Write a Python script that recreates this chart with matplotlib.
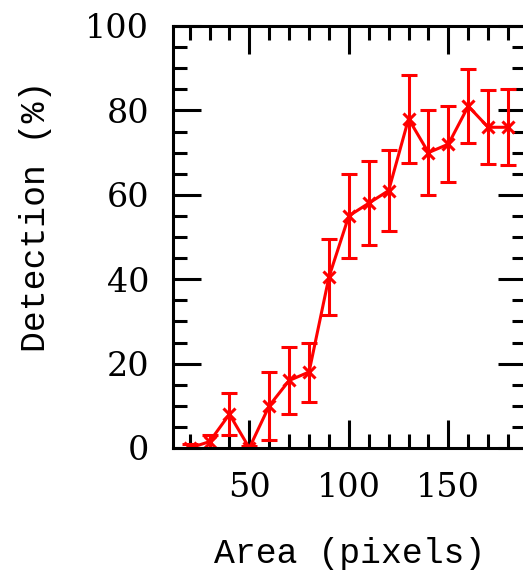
import matplotlib
matplotlib.use("Agg")
import matplotlib.pyplot as plt
from matplotlib.ticker import MultipleLocator

area = [20, 30, 40, 50, 60, 70, 80, 90, 100, 110, 120, 130, 140, 150, 160, 170, 180]
detection = [0, 1.5, 8, 0, 10, 16, 18, 40.5, 55, 58, 61, 78, 70, 72, 81, 76, 76]
errors = [1, 1.5, 5, 0.5, 8, 8, 7, 9, 10, 10, 9.5, 10.5, 10, 9, 8.8, 8.8, 9]

fig = plt.figure(figsize=(5.23, 5.77), dpi=100)
ax = fig.add_axes([172.7 / 523, 129 / 577, (526 - 172.7) / 523, (448 - 26) / 577])

ax.errorbar(area, detection, yerr=errors, color="#ff0000", lw=2.2, elinewidth=2.2,
            capsize=5.5, capthick=2.8, marker="x", ms=8, mew=2.2)

ax.set_xlim(11.5, 189)
ax.set_ylim(0, 100)
ax.xaxis.set_major_locator(MultipleLocator(50))
ax.xaxis.set_minor_locator(MultipleLocator(10))
ax.yaxis.set_major_locator(MultipleLocator(20))
ax.yaxis.set_minor_locator(MultipleLocator(5))
ax.tick_params(which="both", direction="in", top=True, right=True, width=2.2, color="black")
ax.tick_params(which="major", length=20, pad=17)
ax.tick_params(which="minor", length=10)
for s in ax.spines.values():
    s.set_linewidth(2.2)

for lab in ax.get_xticklabels() + ax.get_yticklabels():
    lab.set_fontfamily("DejaVu Serif")
    lab.set_fontsize(24)

ax.set_xlabel("Area (pixels)", fontfamily="Liberation Mono", fontsize=25, labelpad=24)
ax.set_ylabel("Detection (%)", fontfamily="Liberation Mono", fontsize=25, labelpad=24)
ax.yaxis.label.set_y(0.55)

fig.savefig("out.png", dpi=100)
